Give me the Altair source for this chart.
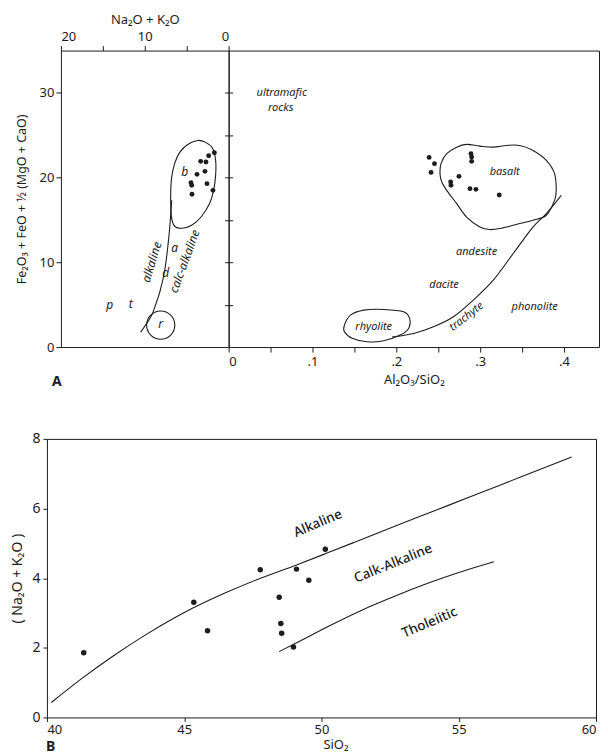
import altair as alt
import pandas as pd

INK = "#1c1c1c"
FONT = "Noto Sans"

# ---------------- Panel A, left half: Na2O+K2O (reversed) vs Fe2O3+FeO+1/2(MgO+CaO)
alk_a = [1.70, 2.38, 3.33, 2.70, 2.82, 3.77, 4.49, 4.40, 2.58, 4.37, 1.87]
fe_a_left = [22.94, 22.59, 21.92, 21.84, 20.74, 20.39, 19.41, 19.09, 19.29, 18.03, 18.50]

# outline of field "b"
b_field_alk = [3.69, 2.74, 1.90, 1.55, 1.55, 1.79, 2.26, 3.21, 4.40, 5.60, 6.43, 6.79,
               6.90, 6.90, 6.79, 6.43, 5.83, 4.88]
b_field_fe = [24.39, 24.16, 23.45, 22.04, 20.27, 18.50, 16.97, 15.44, 14.38, 14.02, 14.26, 15.20,
              16.73, 18.50, 20.03, 21.68, 22.98, 23.92]

# alkaline / calc-alkaline divide
divide_alk = [10.48, 9.29, 8.81, 8.21, 7.62, 7.26, 7.02, 6.90, 6.79]
divide_fe = [1.77, 3.54, 4.71, 6.48, 9.07, 11.78, 14.14, 15.79, 17.32]

# field "r" (circle centre)
r_alk = [8.10]
r_fe = [2.59]

left_labels = ["b", "a", "d", "p", "t", "r", "alkaline", "calc-alkaline"]
left_label_x = [5.24, 6.43, 7.50, 14.17, 11.67, 8.10, 9.17, 5.24]
left_label_y = [20.62, 11.67, 8.72, 4.95, 5.07, 2.71, 10.02, 10.13]
left_label_angle = [0, 0, 0, 0, 0, 0, 287, 290]

# ---------------- Panel A, right half: Al2O3/SiO2 vs Fe2O3+FeO+1/2(MgO+CaO)
ratio_a = [0.2391, 0.2455, 0.2414, 0.2890, 0.2898, 0.2898, 0.2747, 0.2648, 0.2652, 0.2878, 0.2949, 0.3227]
fe_a_right = [22.39, 21.65, 20.62, 22.83, 22.43, 21.92, 20.15, 19.48, 19.09, 18.70, 18.62, 17.95]

basalt_ratio = [0.2521, 0.2533, 0.2601, 0.2720, 0.2838, 0.2996, 0.3156, 0.3314, 0.3471, 0.3631, 0.3789, 0.3887,
                0.3907, 0.3887, 0.3789, 0.3631, 0.3471, 0.3234, 0.3115, 0.2996, 0.2838, 0.2720, 0.2601, 0.2542]
basalt_fe = [20.47, 21.65, 22.83, 23.60, 23.92, 23.72, 23.60, 23.80, 23.80, 23.21, 22.04, 20.47,
             18.50, 17.32, 15.56, 14.97, 14.58, 13.99, 13.87, 14.18, 15.35, 16.93, 18.50, 19.48]

rhyolite_ratio = [0.1381, 0.1453, 0.1612, 0.1849, 0.2087, 0.2158, 0.2146, 0.2046, 0.1849, 0.1651, 0.1473, 0.1381]
rhyolite_fe = [2.59, 3.77, 4.36, 4.44, 4.16, 3.38, 2.20, 1.41, 0.74, 0.62, 1.03, 1.80]

trachyte_ratio = [0.1948, 0.2205, 0.2443, 0.2681, 0.2918, 0.3156, 0.3394, 0.3631, 0.3789, 0.3967]
trachyte_fe = [1.18, 1.61, 2.39, 3.57, 5.54, 7.90, 11.04, 14.18, 15.76, 17.91]

right_labels = ["ultramafic", "rocks", "basalt", "andesite", "dacite", "trachyte", "phonolite", "rhyolite"]
right_label_x = [0.0633, 0.0621, 0.3293, 0.2957, 0.2569, 0.2838, 0.3650, 0.1730]
right_label_y = [30.00, 28.25, 20.66, 11.23, 7.31, 3.57, 4.68, 2.39]
right_label_angle = [0, 0, 0, 0, 0, 322, 0, 0]

# ---------------- Panel B: SiO2 vs Na2O+K2O
sio2_b = [41.34, 45.35, 45.85, 47.77, 49.09, 48.46, 48.52, 48.55, 48.98, 50.14, 49.54]
alk_b = [1.86, 3.31, 2.49, 4.24, 4.26, 3.45, 2.70, 2.42, 2.02, 4.83, 3.94]

upper_sio2 = [40.16, 41.24, 42.44, 43.65, 44.97, 46.42, 47.62, 49.09, 50.20, 51.23, 52.67, 54.00, 55.56, 57.30, 59.11]
upper_alk = [0.43, 1.10, 1.78, 2.40, 3.00, 3.55, 3.95, 4.38, 4.72, 5.04, 5.49, 5.90, 6.38, 6.92, 7.48]
lower_sio2 = [48.46, 49.06, 50.26, 51.47, 52.67, 53.39, 54.84, 56.28]
lower_alk = [1.89, 2.13, 2.62, 3.08, 3.48, 3.71, 4.12, 4.47]

b_labels = ["Alkaline", "Calk-Alkaline", "Tholeiitic"]
b_label_x = [49.87, 52.61, 53.94]
b_label_y = [5.57, 4.42, 2.72]
b_label_angle = [337, 338, 337]


def path_df(xs, ys):
    return pd.DataFrame({"x": xs, "y": ys, "order": list(range(len(xs)))})


AX = dict(labelFont=FONT, titleFont=FONT, labelColor=INK, titleColor=INK, tickColor=INK,
          domainColor=INK, grid=False, titleFontWeight="normal")

# ======================= Panel A left =======================
xl = alt.Scale(domain=[0, 20], reverse=True, nice=False, zero=False)
yl = alt.Scale(domain=[0, 35], nice=False, zero=False)

left_pts = alt.Chart(pd.DataFrame({"x": alk_a, "y": fe_a_left})).mark_circle(
    size=24, color=INK, opacity=1
).encode(
    x=alt.X("x:Q", scale=xl, axis=alt.Axis(
        orient="top", values=[20, 15, 10, 5, 0],
        labelExpr="datum.value % 10 == 0 ? datum.label : ''",
        title="Na₂O + K₂O", tickSize=5, labelPadding=2, titlePadding=4,
        labelFontSize=13, titleFontSize=13, domain=False, **AX)),
    y=alt.Y("y:Q", scale=yl, axis=alt.Axis(
        orient="left", values=[0, 10, 20, 30], title="Fe₂O₃ + FeO + ½ (MgO + CaO)",
        tickSize=5, labelPadding=2, titlePadding=11, labelFontSize=13, titleFontSize=12.5,
        domain=False, **AX)),
)

left_field = alt.Chart(path_df(b_field_alk, b_field_fe)).mark_line(
    color=INK, strokeWidth=1.1, interpolate="cardinal-closed"
).encode(
    x=alt.X("x:Q", scale=xl, axis=None),
    y=alt.Y("y:Q", scale=yl, axis=alt.Axis(
        orient="right", values=[5, 10, 15, 20, 25, 30], labels=False, title=None,
        tickSize=4, domain=False, **AX)),
    order="order:Q",
)

left_divide = alt.Chart(path_df(divide_alk, divide_fe)).mark_line(
    color=INK, strokeWidth=1.1, interpolate="cardinal"
).encode(
    x=alt.X("x:Q", scale=xl, axis=None),
    y=alt.Y("y:Q", scale=yl, axis=None),
    order="order:Q",
)

left_circle = alt.Chart(pd.DataFrame({"x": r_alk, "y": r_fe})).mark_point(
    shape="circle", filled=False, size=800, color=INK, strokeWidth=1.1, opacity=1
).encode(
    x=alt.X("x:Q", scale=xl, axis=None),
    y=alt.Y("y:Q", scale=yl, axis=None),
)

left_text = alt.Chart(pd.DataFrame({"x": left_label_x, "y": left_label_y, "t": left_labels,
                                    "a": left_label_angle})).mark_text(
    font=FONT, fontSize=12, fontStyle="italic", color=INK
).encode(
    x=alt.X("x:Q", scale=xl, axis=None),
    y=alt.Y("y:Q", scale=yl, axis=None),
    text="t:N",
    angle=alt.Angle("a:Q", scale=None),
)

left_panel = alt.layer(left_pts, left_field, left_divide, left_circle, left_text).resolve_axis(
    x="independent", y="independent"
).properties(
    width=168, height=297,
    title=alt.TitleParams("A", orient="bottom", anchor="start", frame="group", offset=21, dx=-9,
                          font=FONT, fontSize=14, fontWeight="bold", color=INK),
)

# ======================= Panel A right =======================
xr = alt.Scale(domain=[0, 0.4417], nice=False, zero=False)

right_pts = alt.Chart(pd.DataFrame({"x": ratio_a, "y": fe_a_right})).mark_circle(
    size=24, color=INK, opacity=1
).encode(
    x=alt.X("x:Q", scale=xr, axis=alt.Axis(
        orient="bottom", values=[0, 0.05, 0.1, 0.15, 0.2, 0.25, 0.3, 0.35, 0.4],
        labelExpr="datum.value == 0 ? '0' : (round(datum.value*100) % 10 == 0 ? '.' + round(datum.value*10) : '')",
        title="Al₂O₃/SiO₂", tickSize=5, labelPadding=3, titlePadding=6,
        labelFontSize=13, titleFontSize=13, domain=False, **AX)),
    y=alt.Y("y:Q", scale=yl, axis=alt.Axis(
        orient="left", values=[5, 10, 15, 20, 25, 30], labels=False, title=None,
        tickSize=4, domain=False, **AX)),
)

right_basalt = alt.Chart(path_df(basalt_ratio, basalt_fe)).mark_line(
    color=INK, strokeWidth=1.1, interpolate="cardinal-closed"
).encode(
    x=alt.X("x:Q", scale=xr, axis=None),
    y=alt.Y("y:Q", scale=yl, axis=None),
    order="order:Q",
)

right_rhyolite = alt.Chart(path_df(rhyolite_ratio, rhyolite_fe)).mark_line(
    color=INK, strokeWidth=1.1, interpolate="cardinal-closed"
).encode(
    x=alt.X("x:Q", scale=xr, axis=None),
    y=alt.Y("y:Q", scale=yl, axis=None),
    order="order:Q",
)

right_trachyte = alt.Chart(path_df(trachyte_ratio, trachyte_fe)).mark_line(
    color=INK, strokeWidth=1.1, interpolate="cardinal"
).encode(
    x=alt.X("x:Q", scale=xr, axis=None),
    y=alt.Y("y:Q", scale=yl, axis=None),
    order="order:Q",
)

right_text = alt.Chart(pd.DataFrame({"x": right_label_x, "y": right_label_y, "t": right_labels,
                                     "a": right_label_angle})).mark_text(
    font=FONT, fontSize=11, fontStyle="italic", color=INK
).encode(
    x=alt.X("x:Q", scale=xr, axis=None),
    y=alt.Y("y:Q", scale=yl, axis=None),
    text="t:N",
    angle=alt.Angle("a:Q", scale=None),
)

right_panel = alt.layer(right_pts, right_basalt, right_rhyolite, right_trachyte, right_text).resolve_axis(
    x="independent", y="independent"
).properties(width=371, height=297)

spacer = alt.Chart(pd.DataFrame({"v": [0]})).mark_point(opacity=0).encode(
    x=alt.X("v:Q", axis=None), y=alt.Y("v:Q", axis=None)
).properties(width=14, height=297, view=alt.ViewBackground(stroke=None))

row_a = alt.hconcat(spacer, left_panel, right_panel, spacing=0, bounds="flush")

# ======================= Panel B =======================
xb = alt.Scale(domain=[40, 60], nice=False, zero=False)
yb = alt.Scale(domain=[0, 8], nice=False, zero=False)

b_pts = alt.Chart(pd.DataFrame({"x": sio2_b, "y": alk_b})).mark_circle(
    size=30, color=INK, opacity=1
).encode(
    x=alt.X("x:Q", scale=xb, axis=alt.Axis(
        values=[40, 45, 50, 55, 60], title="SiO₂", tickSize=4, labelPadding=2, titlePadding=2,
        labelFontSize=13, titleFontSize=13, titleX=289, domain=False, **AX)),
    y=alt.Y("y:Q", scale=yb, axis=alt.Axis(
        values=[0, 2, 4, 6, 8], title="( Na₂O + K₂O )", tickSize=4, labelPadding=3, titlePadding=7,
        labelFontSize=14, titleFontSize=14, domain=False, **AX)),
)

b_upper = alt.Chart(path_df(upper_sio2, upper_alk)).mark_line(
    color=INK, strokeWidth=1.1, interpolate="monotone"
).encode(
    x=alt.X("x:Q", scale=xb), y=alt.Y("y:Q", scale=yb), order="order:Q"
)

b_lower = alt.Chart(path_df(lower_sio2, lower_alk)).mark_line(
    color=INK, strokeWidth=1.1, interpolate="monotone"
).encode(
    x=alt.X("x:Q", scale=xb), y=alt.Y("y:Q", scale=yb), order="order:Q"
)

b_text = alt.Chart(pd.DataFrame({"x": b_label_x, "y": b_label_y, "t": b_labels,
                                 "a": b_label_angle})).mark_text(
    font=FONT, fontSize=13.5, fontWeight=500, color=INK
).encode(
    x=alt.X("x:Q", scale=xb), y=alt.Y("y:Q", scale=yb), text="t:N",
    angle=alt.Angle("a:Q", scale=None),
)

panel_b = alt.layer(b_pts, b_upper, b_lower, b_text).properties(
    width=550, height=279,
    title=alt.TitleParams("B", orient="bottom", anchor="start", frame="group", offset=-11, dx=-1,
                          font=FONT, fontSize=14, fontWeight="bold", color=INK),
)

chart = alt.vconcat(row_a, panel_b, spacing=41).properties(
    background="white",
    padding={"left": 2, "top": 4, "right": 0, "bottom": 0},
).configure_view(stroke=INK, strokeWidth=1)

chart.save("out.html", embed_options={"renderer": "svg", "actions": False})
